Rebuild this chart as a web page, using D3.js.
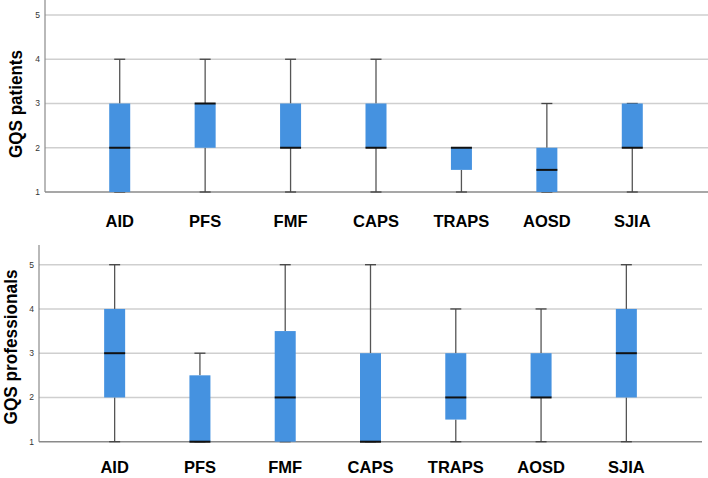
<!DOCTYPE html>
<html><head><meta charset="utf-8">
<script src="https://cdn.jsdelivr.net/npm/d3@7"></script>
<style>body{margin:0;background:#fff}svg{display:block}</style>
</head><body><svg id="c" width="708" height="478"></svg>
<script>
const categories = ["AID","PFS","FMF","CAPS","TRAPS","AOSD","SJIA"];
const yTicks = [1,2,3,4,5];
// [min, q1, median, q3, max]
const patients = [[1,1,2,3,4],[1,2,3,3,4],[1,2,2,3,4],[1,2,2,3,4],[1,1.5,2,2,2],[1,1,1.5,2,3],[1,2,2,3,3]];
const professionals = [[1,2,3,4,5],[1,1,1,2.5,3],[1,1,2,3.5,5],[1,1,1,3,5],[1,1.5,2,3,4],[1,2,2,3,4],[1,2,3,4,5]];
const panels = [
  {title:"GQS patients", data:patients, axisX:45, axisTop:0, y1:192, y5:15, gridEnd:708, x0:77, x1:675, labelY:227, titleX:22, titleY:104, titleLen:108},
  {title:"GQS professionals", data:professionals, axisX:39, axisTop:245, y1:441.7, y5:264.7, gridEnd:702, x0:72, x1:669, labelY:473, titleX:17, titleY:347, titleLen:155}
];
const svg = d3.select("#c");
const boxColor = "#4592e0";
panels.forEach(p => {
  const g = svg.append("g");
  const y = d3.scaleLinear().domain([1,5]).range([p.y1,p.y5]);
  const x = d3.scaleBand().domain(categories).range([p.x0,p.x1]);
  g.selectAll("line.grid").data(yTicks).join("line")
    .attr("x1",p.axisX).attr("x2",p.gridEnd)
    .attr("y1",d=>y(d)).attr("y2",d=>y(d))
    .attr("stroke",d=>d===1?"#8a8a8a":"#cfcfcf").attr("stroke-width",1.5);
  g.append("line").attr("x1",p.axisX).attr("x2",p.axisX)
    .attr("y1",p.axisTop).attr("y2",p.y1).attr("stroke","#8a8a8a").attr("stroke-width",1.2);
  g.selectAll("text.tick").data(yTicks).join("text")
    .attr("x",p.axisX-5).attr("y",d=>y(d)).attr("dy","0.35em")
    .attr("text-anchor","end").attr("font-family","Liberation Sans, Arial, sans-serif")
    .attr("font-size",8.5).attr("fill","#333").text(d=>d);
  g.append("text").attr("transform",`translate(${p.titleX},${p.titleY}) rotate(-90)`)
    .attr("text-anchor","middle").attr("font-family","Liberation Sans, Arial, sans-serif")
    .attr("font-weight","bold").attr("font-size",18).attr("fill","#000")
    .attr("textLength",p.titleLen).attr("lengthAdjust","spacingAndGlyphs").text(p.title);
  const bw = 21, cap = 11;
  const bx = g.selectAll("g.box").data(p.data).join("g")
    .attr("transform",(d,i)=>`translate(${x(categories[i])+x.bandwidth()/2},0)`);
  bx.append("line").attr("y1",d=>y(d[0])).attr("y2",d=>y(d[1])).attr("stroke","#555").attr("stroke-width",1.3);
  bx.append("line").attr("y1",d=>y(d[3])).attr("y2",d=>y(d[4])).attr("stroke","#555").attr("stroke-width",1.3);
  bx.append("line").attr("x1",-cap/2).attr("x2",cap/2).attr("y1",d=>y(d[4])).attr("y2",d=>y(d[4])).attr("stroke","#444").attr("stroke-width",1.3);
  bx.append("line").attr("x1",-cap/2).attr("x2",cap/2).attr("y1",d=>y(d[0])).attr("y2",d=>y(d[0])).attr("stroke","#444").attr("stroke-width",1.3);
  bx.append("rect").attr("x",-bw/2).attr("width",bw)
    .attr("y",d=>y(d[3])).attr("height",d=>y(d[1])-y(d[3])).attr("fill",boxColor);
  bx.append("line").attr("x1",-bw/2).attr("x2",bw/2).attr("y1",d=>y(d[2])).attr("y2",d=>y(d[2]))
    .attr("stroke","#111").attr("stroke-width",2);
  g.selectAll("text.cat").data(categories).join("text")
    .attr("x",d=>x(d)+x.bandwidth()/2).attr("y",p.labelY)
    .attr("text-anchor","middle").attr("font-family","Liberation Sans, Arial, sans-serif")
    .attr("font-weight","bold").attr("font-size",16.5).attr("fill","#000").text(d=>d);
});
</script></body></html>
